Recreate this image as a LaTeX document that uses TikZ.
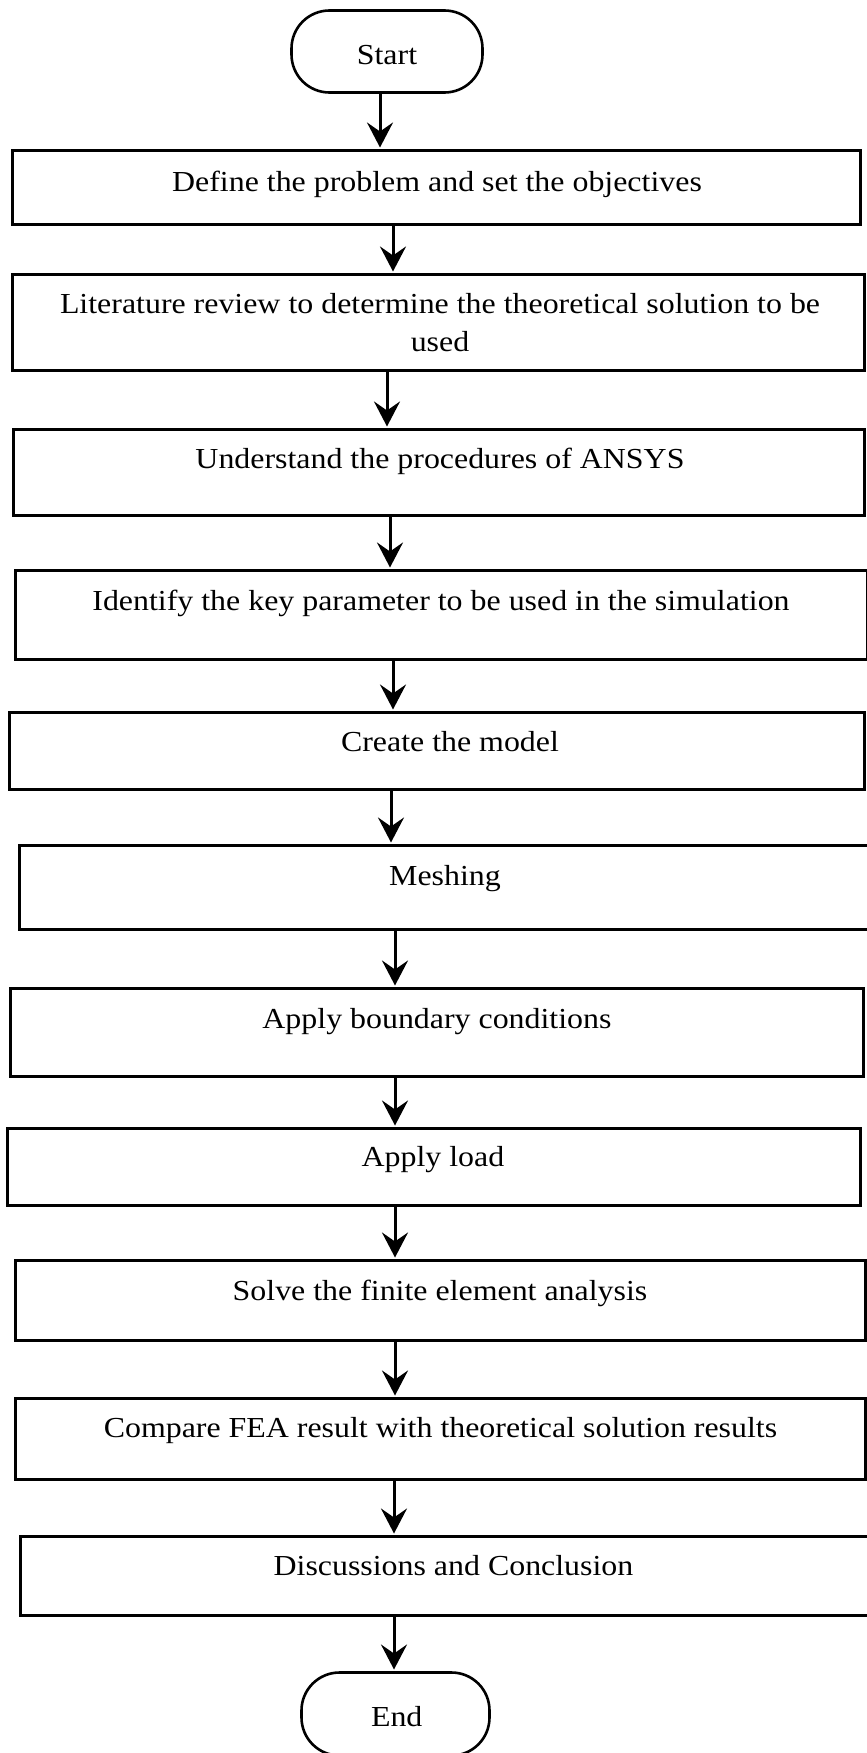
\documentclass[tikz,border=0pt]{standalone}
\usepackage{fontspec}
\setmainfont[FakeStretch=1.1]{Liberation Serif}
\usetikzlibrary{arrows.meta}
\tikzset{
  flowbox/.style={draw, line width=3pt, fill=white, inner sep=0pt, outer sep=0pt},
  termbox/.style={draw, line width=2.6pt, fill=white, rounded corners=38pt, inner sep=0pt, outer sep=0pt},
  lbl/.style={font=\fontsize{29}{38}\selectfont, inner sep=0pt, align=center},
  arr/.style={line width=3pt, -{Stealth[length=25pt,width=26pt,inset=9pt]}, shorten >=3pt},
}
\newcommand{\fbx}[6]{% style, name, left, top, right, bottom
  \pgfmathsetmacro\fbw{#5-#3-3}\pgfmathsetmacro\fbh{#6-#4-3}%
  \node[#1, minimum width=\fbw pt, minimum height=\fbh pt] (#2) at ({(#3+#5)/2},{(#4+#6)/2}) {};}
\begin{document}
\begin{tikzpicture}[x=1pt, y=-1pt]
\useasboundingbox (0,0) rectangle (867,1753);
% boxes
\fbx{termbox}{start}{290}{9}{484}{94}
\fbx{flowbox}{define}{11}{149}{862}{226}
\fbx{flowbox}{lit}{11}{273}{866}{372}
\fbx{flowbox}{und}{12}{428}{866}{517}
\fbx{flowbox}{ident}{14}{569}{868.5}{661}
\fbx{flowbox}{create}{8}{711}{866}{791}
\fbx{flowbox}{mesh}{18}{844}{873}{931}
\fbx{flowbox}{bound}{9}{987}{865}{1078}
\fbx{flowbox}{load}{5.5}{1127}{862}{1207}
\fbx{flowbox}{solve}{14}{1259}{867}{1342}
\fbx{flowbox}{comp}{14}{1397}{867}{1481}
\fbx{flowbox}{disc}{19}{1535}{888}{1617}
\fbx{termbox}{end}{300}{1671}{491}{1757}
% labels
\node[lbl, anchor=base] (tstart) at (387,64) {Start};
\node[lbl, anchor=base] (tdefine) at (437,191.7) {Define the problem and set the objectives};
\node[lbl, anchor=base] (tlit) at (440,351) {Literature review to determine the theoretical solution to be\\used};
\node[lbl, anchor=base] (tund) at (440,468) {Understand the procedures of ANSYS};
\node[lbl, anchor=base] (tident) at (441,610) {Identify the key parameter to be used in the simulation};
\node[lbl, anchor=base] (tcreate) at (450,751.7) {Create the model};
\node[lbl, anchor=base] (tmesh) at (445,885) {Meshing};
\node[lbl, anchor=base] (tbound) at (437,1028) {Apply boundary conditions};
\node[lbl, anchor=base] (tload) at (433,1166.7) {Apply load};
\node[lbl, anchor=base] (tsolve) at (440,1300) {Solve the finite element analysis};
\node[lbl, anchor=base] (tcomp) at (440.5,1437) {Compare FEA result with theoretical solution results};
\node[lbl, anchor=base] (tdisc) at (453.5,1575) {Discussions and Conclusion};
\node[lbl, anchor=base] (tend) at (396.7,1726) {End};
% arrow columns
\coordinate (a1) at (380,0);
\coordinate (a2) at (393,0);
\coordinate (a3) at (387,0);
\coordinate (a4) at (390,0);
\coordinate (a5) at (393,0);
\coordinate (a6) at (391,0);
\coordinate (a7) at (395,0);
\coordinate (a8) at (395,0);
\coordinate (a9) at (395,0);
\coordinate (a10) at (395,0);
\coordinate (a11) at (394,0);
\coordinate (a12) at (394,0);
% connectors
\draw[arr] (start.south -| a1) -- (define.north -| a1);
\draw[arr] (define.south -| a2) -- (lit.north -| a2);
\draw[arr] (lit.south -| a3) -- (und.north -| a3);
\draw[arr] (und.south -| a4) -- (ident.north -| a4);
\draw[arr] (ident.south -| a5) -- (create.north -| a5);
\draw[arr] (create.south -| a6) -- (mesh.north -| a6);
\draw[arr] (mesh.south -| a7) -- (bound.north -| a7);
\draw[arr] (bound.south -| a8) -- (load.north -| a8);
\draw[arr] (load.south -| a9) -- (solve.north -| a9);
\draw[arr] (solve.south -| a10) -- (comp.north -| a10);
\draw[arr] (comp.south -| a11) -- (disc.north -| a11);
\draw[arr] (disc.south -| a12) -- (end.north -| a12);
\end{tikzpicture}
\end{document}
